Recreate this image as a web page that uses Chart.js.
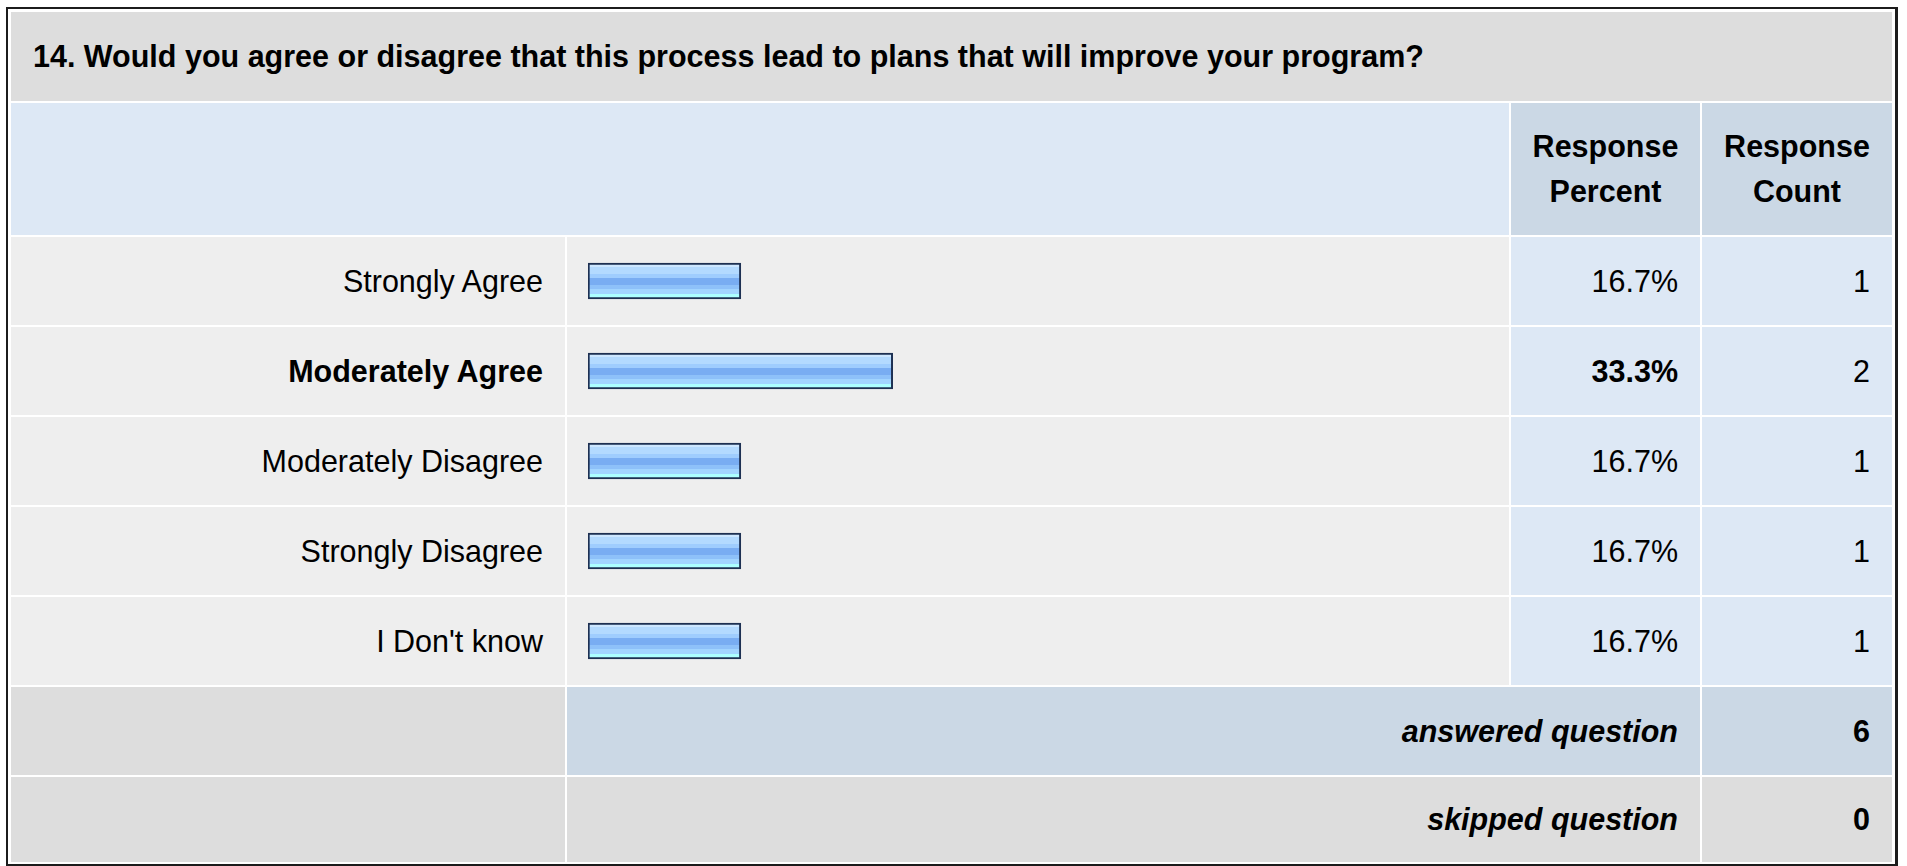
<!DOCTYPE html>
<html>
<head>
<meta charset="utf-8">
<script src="https://cdn.jsdelivr.net/npm/chart.js@4.4.1/dist/chart.umd.min.js"></script>
<style>
html,body{margin:0;padding:0;background:#fff;width:1907px;height:866px;overflow:hidden;}
body{font-family:"Liberation Sans",Arial,sans-serif;color:#000;position:relative;}
.frame{position:absolute;left:6px;top:7px;width:1892px;height:860px;box-sizing:border-box;border-style:solid;border-color:#1c1c1c;border-width:2px 3px 3px 2px;}
.cell{position:absolute;box-sizing:border-box;display:flex;align-items:center;font-size:30.5px;white-space:nowrap;overflow:hidden;}
.r{justify-content:flex-end;padding-right:22px;text-align:right;}
.l{justify-content:flex-start;padding-left:22px;}
.c{justify-content:center;text-align:center;}
.b{font-weight:bold;}
.bi{font-weight:bold;font-style:italic;}
#chartBox{position:absolute;left:567px;top:236px;width:942px;height:450px;}
</style>
</head>
<body>
<div class="frame"></div>
<div id="cells"></div>
<div id="chartBox"><canvas id="chart"></canvas></div>
<script>
// ---- data ----
const questionTitle = "14. Would you agree or disagree that this process lead to plans that will improve your program?";
const categories = ["Strongly Agree", "Moderately Agree", "Moderately Disagree", "Strongly Disagree", "I Don't know"];
const responsePercent = [16.7, 33.3, 16.7, 16.7, 16.7];
const responseCount = [1, 2, 1, 1, 1];
const headerPercent = ["Response", "Percent"];
const headerCount = ["Response", "Count"];
const answeredLabel = "answered question";
const skippedLabel = "skipped question";
const answeredCount = 6;
const skippedCount = 0;

// ---- layout ----
const COL = [[11,565],[567,1509],[1511,1700],[1702,1892]];
const TITLE_Y = [12,101];
const HEAD_Y = [103,235];
const ROW0 = 237, ROW_H = 88, ROW_STEP = 90;
const ANS_Y = [687,775];
const SKIP_Y = [777,862];
const C_TITLE = "#dddddd", C_LIGHT = "#dde8f5", C_HEAD = "#cbd8e5", C_ROW = "#eeeeee";

const host = document.getElementById('cells');
function cell(x0,x1,y0,y1,bg,cls,text,extra){
  const d = document.createElement('div');
  d.className = 'cell ' + (cls||'');
  d.style.left = x0+'px'; d.style.top = y0+'px';
  d.style.width = (x1-x0)+'px'; d.style.height = (y1-y0)+'px';
  d.style.background = bg;
  if (extra) Object.assign(d.style, extra);
  if (Array.isArray(text)) {
    const s = document.createElement('div');
    text.forEach((t,k)=>{ if(k) s.appendChild(document.createElement('br')); s.appendChild(document.createTextNode(t)); });
    d.appendChild(s);
  }
  else if (text !== undefined) d.textContent = text;
  host.appendChild(d);
}
// title
cell(COL[0][0], COL[3][1], TITLE_Y[0], TITLE_Y[1], C_TITLE, 'l b', questionTitle);
// header
cell(COL[0][0], COL[1][1], HEAD_Y[0], HEAD_Y[1], C_LIGHT, '');
cell(COL[2][0], COL[2][1], HEAD_Y[0], HEAD_Y[1], C_HEAD, 'c b', headerPercent, {lineHeight:'45px'});
cell(COL[3][0], COL[3][1], HEAD_Y[0], HEAD_Y[1], C_HEAD, 'c b', headerCount, {lineHeight:'45px'});
// data rows
const maxVal = Math.max(...responsePercent);
categories.forEach((cat,i)=>{
  const y0 = ROW0 + i*ROW_STEP, y1 = y0 + ROW_H;
  const bold = responsePercent[i] === maxVal ? ' b' : '';
  cell(COL[0][0], COL[0][1], y0, y1, C_ROW, 'r'+bold, cat);
  cell(COL[1][0], COL[1][1], y0, y1, C_ROW, '');
  cell(COL[2][0], COL[2][1], y0, y1, C_LIGHT, 'r'+bold, responsePercent[i].toFixed(1)+'%');
  cell(COL[3][0], COL[3][1], y0, y1, C_LIGHT, 'r', String(responseCount[i]));
});
// answered
cell(COL[0][0], COL[0][1], ANS_Y[0], ANS_Y[1], C_TITLE, '');
cell(COL[1][0], COL[2][1], ANS_Y[0], ANS_Y[1], C_HEAD, 'r bi', answeredLabel);
cell(COL[3][0], COL[3][1], ANS_Y[0], ANS_Y[1], C_HEAD, 'r b', String(answeredCount));
// skipped
cell(COL[0][0], COL[0][1], SKIP_Y[0], SKIP_Y[1], C_TITLE, '');
cell(COL[1][0], COL[2][1], SKIP_Y[0], SKIP_Y[1], C_TITLE, 'r bi', skippedLabel);
cell(COL[3][0], COL[3][1], SKIP_Y[0], SKIP_Y[1], C_TITLE, 'r b', String(skippedCount));

// ---- chart ----
const BAR_T = 36;
const bands = [
  [0.00, '#cde7ff'], [0.10, '#b3daff'], [0.30, '#9fcdfe'], [0.42, '#79adf2'],
  [0.60, '#8ec1f9'], [0.72, '#a2d5ff'], [0.86, '#acffff']
];
function barFill(ctx){
  const chart = ctx.chart;
  const ys = chart.scales && chart.scales.y;
  if (!ys || ctx.type !== 'data') return '#8fc0f8';
  const cy = ys.getPixelForValue(ctx.dataIndex);
  if (!isFinite(cy)) return '#8fc0f8';
  const g = chart.ctx.createLinearGradient(0, cy - BAR_T/2, 0, cy + BAR_T/2);
  bands.forEach((b,k)=>{
    const end = k+1 < bands.length ? bands[k+1][0] : 1;
    g.addColorStop(b[0], b[1]);
    g.addColorStop(Math.max(b[0], end - 0.001), b[1]);
  });
  return g;
}
new Chart(document.getElementById('chart'), {
  type: 'bar',
  data: {
    labels: categories,
    datasets: [{
      data: responsePercent,
      backgroundColor: barFill,
      borderColor: '#1d3052',
      borderWidth: 2,
      borderSkipped: false,
      barThickness: BAR_T
    }]
  },
  options: {
    indexAxis: 'y',
    responsive: true,
    maintainAspectRatio: false,
    animation: false,
    devicePixelRatio: 1,
    layout: { padding: { left: 21, right: 6, top: 0, bottom: 0 } },
    scales: {
      x: { min: 0, max: 100, display: false },
      y: { display: false }
    },
    plugins: { legend: { display: false }, tooltip: { enabled: false } }
  }
});
</script>
</body>
</html>
